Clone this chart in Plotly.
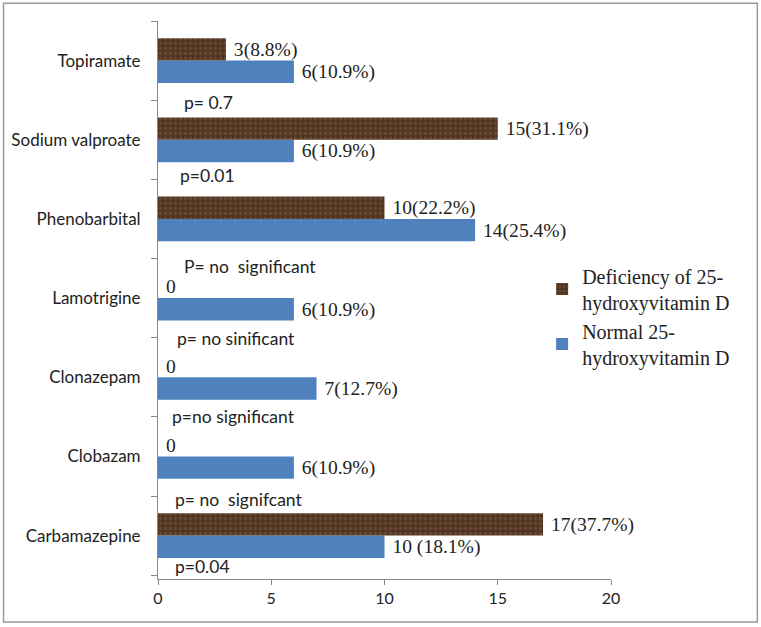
import plotly.graph_objects as go

categories = ["Carbamazepine", "Clobazam", "Clonazepam", "Lamotrigine",
              "Phenobarbital", "Sodium valproate", "Topiramate"]
normal_vals = [10, 6, 7, 6, 14, 6, 6]
normal_text = ["10 (18.1%)", "6(10.9%)", "7(12.7%)", "6(10.9%)",
               "14(25.4%)", "6(10.9%)", "6(10.9%)"]
defic_vals = [17, 0, 0, 0, 10, 15, 3]
defic_text = ["17(37.7%)", "0", "0", "0", "10(22.2%)", "15(31.1%)", "3(8.8%)"]
p_labels = ["p=0.04", "p= no  signifcant", "p=no significant", "p= no sinificant",
            "P= no  significant", "p=0.01", "p= 0.7"]
p_y_offsets = [-0.39, -0.54, -0.49, -0.51, -0.60, -0.45, -0.53]
p_x = [0.77, 0.77, 0.6, 0.82, 1.13, 0.95, 1.13]

serif = "Liberation Serif, Times New Roman, serif"
sans = "Lato, Open Sans, sans-serif"

fig = go.Figure()
fig.add_trace(go.Bar(
    y=categories, x=normal_vals, orientation="h",
    name="Normal 25-<br>hydroxyvitamin D",
    marker=dict(color="#4F81BD", line=dict(width=0)),
    text=normal_text, texttemplate=" %{text}", textposition="outside",
    cliponaxis=False, hoverinfo="skip",
    textfont=dict(family=serif, size=21, color="#222"),
))
fig.add_trace(go.Bar(
    y=categories, x=defic_vals, orientation="h",
    name="Deficiency of 25-<br>hydroxyvitamin D",
    marker=dict(color="#573a26", line=dict(width=0),
                pattern=dict(shape=".", fgcolor="#7d5d43", bgcolor="#513522",
                             size=5, solidity=0.35)),
    text=defic_text, texttemplate=" %{text}", textposition="outside",
    cliponaxis=False, hoverinfo="skip",
    textfont=dict(family=serif, size=21, color="#222"),
))

for i, (lab, off, px) in enumerate(zip(p_labels, p_y_offsets, p_x)):
    fig.add_annotation(x=px, y=i + off, xref="x", yref="y", text=lab,
                       showarrow=False, xanchor="left", yanchor="middle",
                       xshift=-2,
                       font=dict(family=sans, size=17.5, color="#222"))

fig.add_shape(type="rect", xref="paper", yref="paper",
              x0=-0.341, x1=1.323, y0=-0.077, y1=1.032,
              line=dict(color="#9a9a9a", width=1.5), layer="below")

fig.update_layout(
    width=761, height=627,
    margin=dict(l=158, r=150, t=21, b=48),
    barmode="group", bargap=0.435, bargroupgap=0,
    plot_bgcolor="white", paper_bgcolor="white",
    showlegend=True,
    legend=dict(x=0.848, y=0.578, xanchor="left", yanchor="top",
                traceorder="reversed",
                font=dict(family=serif, size=20, color="#222"),
                itemsizing="constant", tracegroupgap=2, itemwidth=30,
                bgcolor="rgba(0,0,0,0)"),
    xaxis=dict(range=[0, 20], tickvals=[0, 5, 10, 15, 20], showgrid=False,
               zeroline=False, showline=True, linecolor="#888", linewidth=1,
               ticks="outside", ticklen=5, tickcolor="#888", automargin=False,
               tickfont=dict(family=sans, size=16, color="#222")),
    yaxis=dict(categoryorder="array", categoryarray=categories,
               showgrid=False, showline=True, linecolor="#888", linewidth=1,
               ticks="outside", ticklen=6, tickcolor="#888", tickson="boundaries",
               ticklabelstandoff=13, automargin=False,
               tickfont=dict(family=sans, size=17, color="#222")),
)

fig.write_html("out.html", config={"displayModeBar": False},
               post_script="document.body.style.margin='0';document.body.style.padding='0';")
